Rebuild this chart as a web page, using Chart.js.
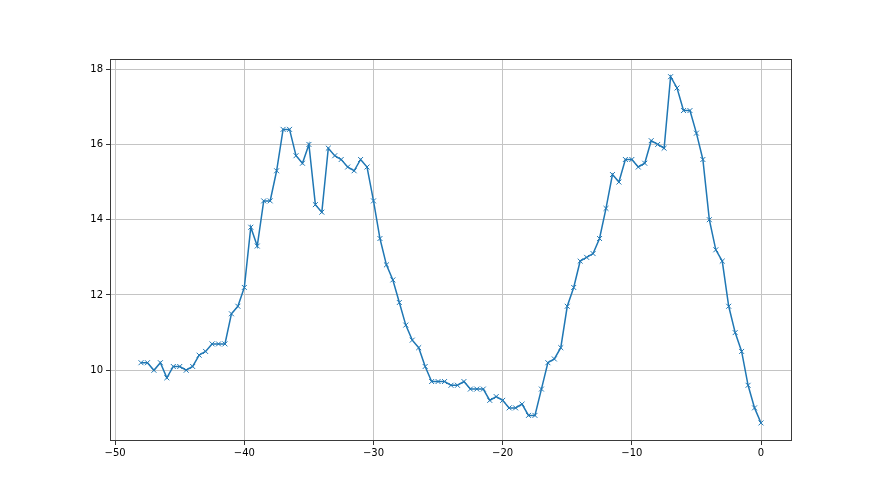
<!DOCTYPE html>
<html>
<head>
<meta charset="utf-8">
<script src="https://cdn.jsdelivr.net/npm/chart.js@4.4.0/dist/chart.umd.min.js"></script>
<style>
html,body{margin:0;padding:0;background:#fff;}
#wrap{width:880px;height:495px;position:relative;}
</style>
</head>
<body>
<div id="wrap"><canvas id="c" width="880" height="495"></canvas></div>
<script>
const xValues = [-48,-47.5,-47,-46.5,-46,-45.5,-45,-44.5,-44,-43.5,-43,-42.5,-42,-41.5,-41,-40.5,-40,-39.5,-39,-38.5,-38,-37.5,-37,-36.5,-36,-35.5,-35,-34.5,-34,-33.5,-33,-32.5,-32,-31.5,-31,-30.5,-30,-29.5,-29,-28.5,-28,-27.5,-27,-26.5,-26,-25.5,-25,-24.5,-24,-23.5,-23,-22.5,-22,-21.5,-21,-20.5,-20,-19.5,-19,-18.5,-18,-17.5,-17,-16.5,-16,-15.5,-15,-14.5,-14,-13.5,-13,-12.5,-12,-11.5,-11,-10.5,-10,-9.5,-9,-8.5,-8,-7.5,-7,-6.5,-6,-5.5,-5,-4.5,-4,-3.5,-3,-2.5,-2,-1.5,-1,-0.5,0];
const yValues = [10.2,10.2,10.0,10.2,9.8,10.1,10.1,10.0,10.1,10.4,10.5,10.7,10.7,10.7,11.5,11.7,12.2,13.8,13.3,14.5,14.5,15.3,16.4,16.4,15.7,15.5,16.0,14.4,14.2,15.9,15.7,15.6,15.4,15.3,15.6,15.4,14.5,13.5,12.8,12.4,11.8,11.2,10.8,10.6,10.1,9.7,9.7,9.7,9.6,9.6,9.7,9.5,9.5,9.5,9.2,9.3,9.2,9.0,9.0,9.1,8.8,8.8,9.5,10.2,10.3,10.6,11.7,12.2,12.9,13.0,13.1,13.5,14.3,15.2,15.0,15.6,15.6,15.4,15.5,16.1,16.0,15.9,17.8,17.5,16.9,16.9,16.3,15.6,14.0,13.2,12.9,11.7,11.0,10.5,9.6,9.0,8.6];
const xTicks = [-50,-40,-30,-20,-10,0];
const yTicks = [10,12,14,16,18];

const points = xValues.map((x,i)=>({x:x,y:yValues[i]}));

const frame = {
  id:'frame',
  afterDraw(chart){
    const a = chart.chartArea, ctx = chart.ctx;
    ctx.save();
    ctx.strokeStyle = '#3a3a3a';
    ctx.lineWidth = 1;
    ctx.strokeRect(Math.round(a.left)+0.5, Math.round(a.top)+0.5, Math.round(a.right-a.left)-1, Math.round(a.bottom-a.top)-1);
    ctx.restore();
  }
};

Chart.defaults.font.family = 'DejaVu Sans';
Chart.defaults.font.size = 10;
Chart.defaults.color = '#000';

new Chart(document.getElementById('c'), {
  type:'line',
  data:{datasets:[{
    data:points,
    borderColor:'#1f77b4',
    backgroundColor:'#1f77b4',
    borderWidth:1.5,
    pointStyle:'crossRot',
    pointRadius:3.5,
    pointBorderWidth:1,
    pointBorderColor:'#1f77b4',
    pointHoverRadius:3.5,
    tension:0,
    fill:false
  }]},
  options:{
    responsive:false,
    animation:false,
    events:[],
    layout:{padding:{top:59,right:88,left:0,bottom:0}},
    plugins:{legend:{display:false},tooltip:{enabled:false}},
    scales:{
      x:{
        type:'linear',
        min:-50.4, max:2.4,
        afterBuildTicks(axis){ axis.ticks = xTicks.map(v=>({value:v})); },
        afterFit(axis){ axis.height = 54; },
        grid:{color:'#c4c4c4', lineWidth:1, tickColor:'#333', tickLength:4, drawTicks:true},
        border:{display:false},
        ticks:{padding:2, maxRotation:0, autoSkip:false, callback:v=>String(v).replace('-','\u2212')}
      },
      y:{
        type:'linear',
        min:8.12, max:18.27,
        afterBuildTicks(axis){ axis.ticks = yTicks.map(v=>({value:v})); },
        afterFit(axis){ axis.width = 110; },
        grid:{color:'#c4c4c4', lineWidth:1, tickColor:'#333', tickLength:4, drawTicks:true},
        border:{display:false},
        ticks:{padding:3, autoSkip:false}
      }
    }
  },
  plugins:[frame]
});
</script>
</body>
</html>
